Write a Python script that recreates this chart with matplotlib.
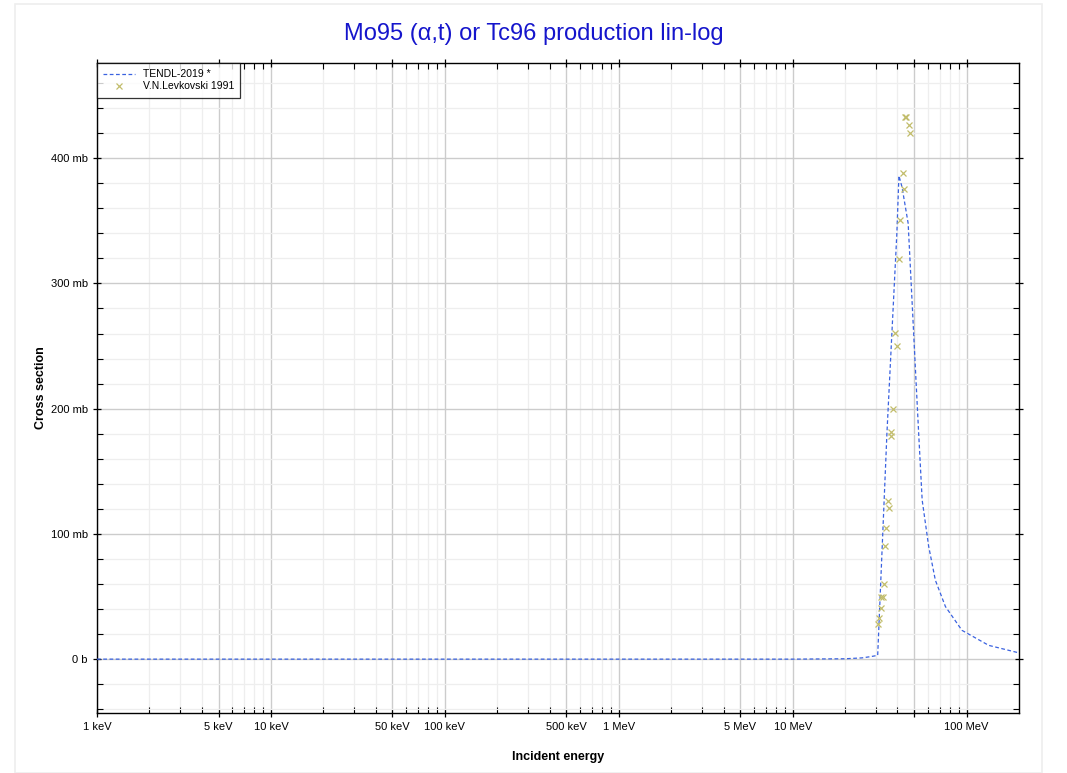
import numpy as np
import matplotlib
matplotlib.use("Agg")
import matplotlib.pyplot as plt
from matplotlib.ticker import FixedLocator, MultipleLocator, FuncFormatter, NullFormatter
from matplotlib.patches import Rectangle

plt.rcParams['font.family'] = ['Liberation Sans', 'DejaVu Sans']

# TENDL-2019 evaluation (energy in eV, cross section in mb)
tendl_e = [1e3, 1e5, 1e6, 1e7, 2.0e7, 2.5e7, 2.8e7, 3.08e7, 3.48e7, 3.8e7, 3.97e7,
           4.08e7, 4.25e7, 4.61e7, 4.85e7, 5.07e7, 5.3e7, 5.55e7, 6.05e7, 6.61e7,
           7.55e7, 9.4e7, 1.34e8, 2.0e8]
tendl_xs = [0, 0, 0, 0, 0.3, 1.0, 2.0, 3.0, 180, 287, 340,
            386, 377, 348, 287, 233, 180, 127, 90, 63,
            42, 23, 11, 5]

# V.N.Levkovski 1991 measurements
exp_e = [3.08e7, 3.12e7, 3.22e7, 3.23e7, 3.29e7, 3.36e7, 3.40e7, 3.45e7, 3.53e7, 3.56e7,
         3.65e7, 3.69e7, 3.78e7, 3.89e7, 3.97e7, 4.06e7, 4.16e7, 4.29e7, 4.38e7,
         4.40e7, 4.50e7, 4.64e7, 4.75e7]
exp_xs = [28, 32.5, 41, 50, 50, 60, 90, 105, 126, 121,
          178, 181, 200, 260.5, 250, 319.5, 351, 388, 375,
          433, 433, 426.5, 420.5]

major_e = [1e3, 5e3, 1e4, 5e4, 1e5, 5e5, 1e6, 5e6, 1e7, 5e7, 1e8]
tick_labels = {1e3: "1 keV", 5e3: "5 keV", 1e4: "10 keV", 5e4: "50 keV", 1e5: "100 keV",
               5e5: "500 keV", 1e6: "1 MeV", 5e6: "5 MeV", 1e7: "10 MeV", 1e8: "100 MeV"}

fig = plt.figure(figsize=(10.67, 7.73), dpi=100)
fig.patches.append(Rectangle((15 / 1067, 0), 1027 / 1067, 769 / 773, transform=fig.transFigure,
                             fill=False, edgecolor='#eeeeee', linewidth=1.2))
ax = fig.add_axes([97 / 1067, 60 / 773, 922 / 1067, 650 / 773])

ax.set_xscale('log')
ax.set_xlim(1e3, 2.0e8)
ax.set_ylim(-43, 476)

ax.plot(tendl_e, tendl_xs, linestyle=(0, (3, 2)), color='#3a62e0', linewidth=0.9,
        label='TENDL-2019 *', zorder=3)
ax.plot(exp_e, exp_xs, linestyle='none', marker='x', markersize=4, markeredgewidth=0.9,
        color='#c2bd6c', label='V.N.Levkovski 1991', zorder=4)

minor_e = []
for d in range(3, 9):
    for m in [2, 3, 4, 6, 7, 8, 9]:
        v = m * 10 ** d
        if v < 2.0e8:
            minor_e.append(v)
ax.xaxis.set_major_locator(FixedLocator(major_e))
ax.xaxis.set_minor_locator(FixedLocator(minor_e))
ax.xaxis.set_major_formatter(FuncFormatter(lambda v, p: tick_labels.get(v, "")))
ax.xaxis.set_minor_formatter(NullFormatter())

ax.yaxis.set_major_locator(MultipleLocator(100))
ax.yaxis.set_minor_locator(MultipleLocator(20))
ax.yaxis.set_major_formatter(FuncFormatter(lambda v, p: "0 b" if v == 0 else "%d mb" % v))

ax.grid(which='major', color='#cccccc', linewidth=1.0)
ax.grid(which='minor', color='#eeeeee', linewidth=0.9)
ax.set_axisbelow(True)

ax.tick_params(which='major', direction='inout', length=6, width=0.9, labelsize=8,
               top=True, right=True)
ax.tick_params(which='minor', direction='in', length=4, width=0.8, top=True, right=True)
for s in ax.spines.values():
    s.set_linewidth(1.0)

ax.set_xlabel('Incident energy', fontsize=9, fontweight='bold', labelpad=14)
ax.set_ylabel('Cross section', fontsize=9, fontweight='bold', labelpad=3)
fig.text(0.5, 1 - 34 / 773, 'Mo95 (\u03b1,t) or Tc96 production lin-log', ha='center',
         va='center', fontsize=17, color='#1515cc')

leg = ax.legend(loc='upper left', fontsize=7.5, frameon=True, fancybox=False,
                borderaxespad=0.0, handlelength=3, borderpad=0.6, labelspacing=0.2)
leg.get_frame().set_edgecolor('black')
leg.get_frame().set_linewidth(0.9)

fig.savefig('out.png', dpi=100)
